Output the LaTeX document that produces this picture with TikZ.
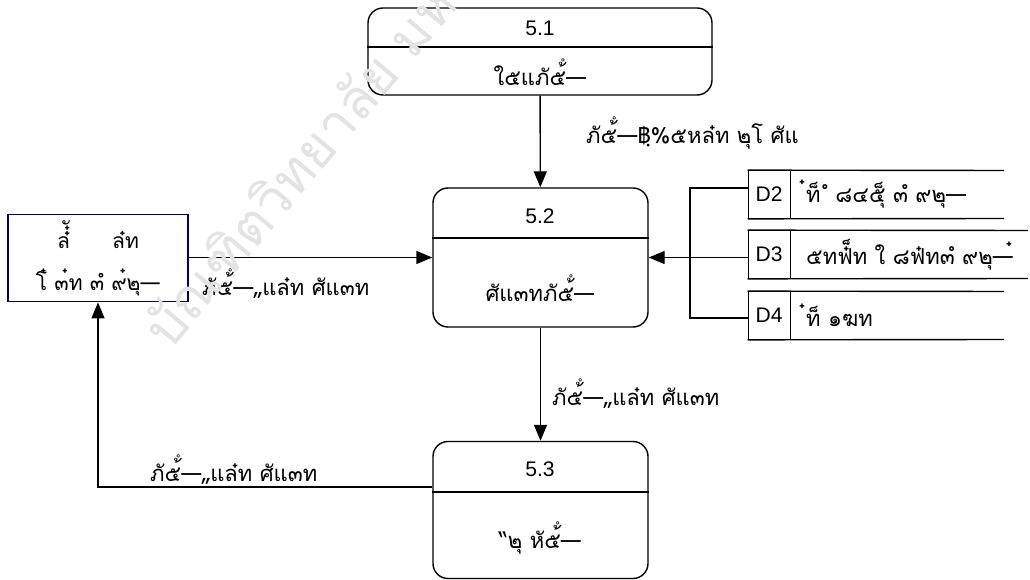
\documentclass[tikz,border=0pt]{standalone}
\usepackage{fontspec}
\setmainfont{Liberation Sans}
\newfontfamily\thaifont[Script=Thai]{Loma}
\usetikzlibrary{arrows.meta}
\begin{document}
\begin{tikzpicture}[x=0.2mm, y=-0.2mm,
    process/.style={draw, thick, rounded corners=3mm, fill=white},
    storeid/.style={draw, minimum width=8.4mm, minimum height=9.6mm, inner sep=0pt, font=\fontsize{12}{14}\selectfont},
    entity/.style={draw=blue!45!black, thick, fill=white, minimum width=36mm, minimum height=16mm, align=center, font=\thaifont\fontsize{12}{24}\selectfont},
    thai/.style={font=\thaifont\fontsize{12.5}{14}\selectfont},
    num/.style={font=\fontsize{12}{14}\selectfont},
    >={Triangle[length=3.2mm, width=2.6mm]}]

            \useasboundingbox (0, 0) rectangle (1030, 580);

            \node (5-1) at (540, 51.5) [process, minimum width=68.8mm, minimum height=17.4mm] {};
            \node (5-2) at (540.5, 257.5) [process, minimum width=43mm, minimum height=27.8mm] {};
            \node (5-3) at (540.5, 510) [process, minimum width=43mm, minimum height=27.4mm] {};

            \draw[thick] (5-1.west |- 0, 47) -- (5-1.east |- 0, 47);
            \draw[thick] (5-2.west |- 0, 238) -- (5-2.east |- 0, 238);
            \draw[thick] (5-3.west |- 0, 492) -- (5-3.east |- 0, 492);

            \node (n-1) at (540, 28) [num] {5.1};
            \node (t-1) at (540, 72) [thai] {ใ๕แภั๕้ํ—};
            \node (n-2) at (540, 216) [num] {5.2};
            \node (t-2) at (540, 288) [thai] {ศัแ๓ทภั๕้ํ—};
            \node (n-3) at (540, 469) [num] {5.3};
            \node (t-3) at (540, 538) [thai] {“๒ุ หั๕้ํ—};

            \node (ext) at (98, 258) [entity] {ล๋๋ั\qquad ล๋ท\\โ๋ ๓๋ท ๓ํ ๙๋๒ุ—};

            \node (d-2) at (769, 194.5) [storeid] {D2};
            \node (d-3) at (769, 254.5) [storeid] {D3};
            \node (d-4) at (769, 315.5) [storeid] {D4};

            \draw[thick] (d-2.north west) -- (1004, 170.5);
            \draw[thick] (d-2.south west) -- (1004, 218.5);
            \draw[thick] (d-3.north west) -- (1028, 230.5);
            \draw[thick] (d-3.south west) -- (1028, 278.5);
            \draw[thick] (d-4.north west) -- (1004, 291.5);
            \draw[thick] (d-4.south west) -- (1004, 339.5);

            \node (s-2) at (800, 194.5) [thai, anchor=west] {๋ท็ ํ ๘๔๕็ุ ๓ํ ๙๒ุ—};
            \node (s-3) at (800, 254.5) [thai, anchor=west] {๕ทฟ๋็ท ใ ๘ฟ๋ท๓ํ ๙๒ุ—๋};
            \node (s-4) at (800, 315.5) [thai, anchor=west] {๋ท็ ๑ฆท};

            \coordinate (j-2) at (690, 188);
            \coordinate (j-4) at (690, 318);

            \draw[thick] (d-2.west |- j-2) -- (j-2) -- (j-4) -- (d-4.west |- j-4);
            \draw[thick, ->] (d-3.west |- 5-2.east) -- (5-2.east);

            \draw[thick, ->] (5-1) -- (5-2);
            \draw[thick, ->] (5-2) -- (5-3);
            \draw[thick, ->] (ext.east |- 5-2) -- (5-2.west);
            \draw[thick, ->] (5-3.west |- 0, 487) -| (ext.south);

            \node (f-1) at (580, 133) [thai, anchor=west] {ภั๕้ํ—฿ฺ\%๕หล๋ท ๒ุโ ศัแ};
            \node (f-2) at (196, 284) [thai, anchor=west] {ภั๕้ํ—„แล๋ท ศัแ๓ท};
            \node (f-3) at (546, 394) [thai, anchor=west] {ภั๕้ํ—„แล๋ท ศัแ๓ท};
            \node (f-4) at (144, 470) [thai, anchor=west] {ภั๕้ํ—„แล๋ท ศัแ๓ท};

            \node (wm) at (150, 342) [anchor=west, rotate=50, text=gray!22, font=\thaifont\fontsize{31}{31}\selectfont] {บัณฑิตวิทยาลัย มหาวิทยาลัย};

        \end{tikzpicture}
\end{document}
